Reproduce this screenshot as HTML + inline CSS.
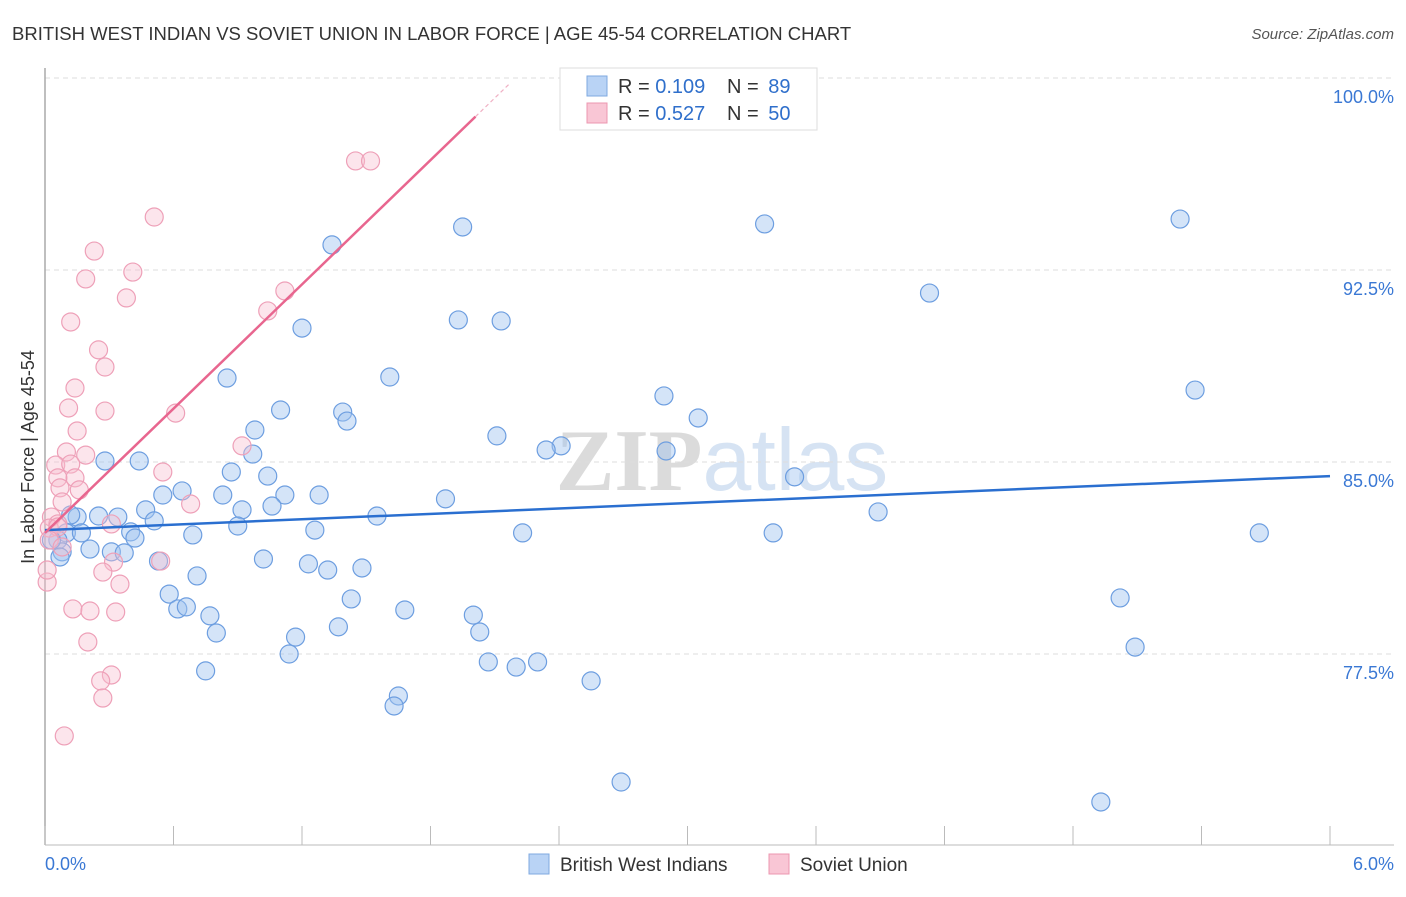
<!DOCTYPE html>
<html><head><meta charset="utf-8"><style>
body{margin:0;background:#fff;font-family:"Liberation Sans",sans-serif}
svg text{font-family:"Liberation Sans",sans-serif}
</style></head><body>
<svg id="chart" width="1406" height="892" xmlns="http://www.w3.org/2000/svg">
<text x="12" y="40" font-size="18.5" fill="#333">BRITISH WEST INDIAN VS SOVIET UNION IN LABOR FORCE | AGE 45-54 CORRELATION CHART</text>
<text x="1394" y="39" font-size="15" fill="#555" text-anchor="end" font-style="italic">Source: ZipAtlas.com</text>
<text x="722" y="490" font-size="88" fill="#ddd" text-anchor="middle" opacity="0.7"><tspan font-family="Liberation Serif" font-weight="bold" fill="#ccc">ZIP</tspan><tspan fill="#c5d8ee">atlas</tspan></text>
<g id="grid"></g>
<g id="axes"></g>
<g id="marks"></g>
<text transform="translate(34,457) rotate(-90)" font-size="18" fill="#333" text-anchor="middle">In Labor Force | Age 45-54</text>
<g>
<rect x="560" y="68" width="257" height="62" fill="#fff" stroke="#ddd"/>
<rect x="587" y="76" width="20" height="20" fill="#b9d3f5" stroke="#7fa9e0"/>
<text x="618" y="93" font-size="20" fill="#333">R = <tspan fill="#2f6fcb">0.109</tspan></text>
<text x="727" y="93" font-size="20" fill="#333">N = <tspan fill="#2f6fcb" dx="4">89</tspan></text>
<rect x="587" y="103" width="20" height="20" fill="#f9c6d5" stroke="#ec97b0"/>
<text x="618" y="120" font-size="20" fill="#333">R = <tspan fill="#2f6fcb">0.527</tspan></text>
<text x="727" y="120" font-size="20" fill="#333">N = <tspan fill="#2f6fcb" dx="4">50</tspan></text>
</g>
<g>
<rect x="529" y="854" width="20" height="20" fill="#b9d3f5" stroke="#7fa9e0"/>
<text x="560" y="871" font-size="19" fill="#333">British West Indians</text>
<rect x="769" y="854" width="20" height="20" fill="#f9c6d5" stroke="#ec97b0"/>
<text x="800" y="871" font-size="19" fill="#333">Soviet Union</text>
</g>
</svg>
<script>
const blueX=[1.34,1.95,3.36,5.30,4.13,1.20,1.93,2.13,1.61,0.85,5.37,2.89,3.05,1.10,1.39,1.41,2.11,0.98,2.41,2.34,2.90,0.44,0.28,0.87,1.04,0.97,3.50,0.64,0.55,0.83,1.12,1.28,1.87,0.47,0.92,1.06,0.25,0.34,0.15,0.12,0.51,1.55,3.89,0.90,1.26,2.23,3.40,5.67,0.10,0.17,0.40,0.42,0.69,0.06,0.21,0.31,0.37,0.08,0.07,0.53,1.02,1.23,1.32,1.48,0.71,0.58,1.43,5.02,0.62,0.66,0.77,1.68,2.00,1.37,0.80,2.03,1.17,1.14,5.09,2.07,2.20,2.30,0.75,2.55,1.65,1.63,2.69,4.93,0.03];
const blueY=[93.48,94.18,94.30,94.49,91.60,90.23,90.55,90.51,88.32,88.28,87.81,87.58,86.72,87.03,86.95,86.60,86.02,86.25,85.63,85.47,85.43,85.04,85.04,84.61,84.45,85.31,84.42,83.87,83.71,83.71,83.71,83.71,83.56,83.13,83.13,83.28,82.89,82.85,82.85,82.93,82.70,82.89,83.05,82.50,82.34,82.23,82.23,82.23,82.23,82.23,82.27,82.03,82.15,81.95,81.60,81.49,81.45,81.49,81.29,81.13,81.21,81.02,80.78,80.86,80.55,79.84,79.65,79.69,79.26,79.34,78.99,79.22,79.02,78.56,78.32,78.36,78.16,77.50,77.77,77.19,76.99,77.19,76.84,76.45,75.86,75.47,72.50,71.72,81.95];
const pinkX=[1.45,1.52,0.51,0.23,0.41,0.19,0.38,1.12,1.04,0.12,0.25,0.28,0.14,0.11,0.28,0.61,0.15,0.92,0.10,0.19,0.55,0.05,0.12,0.14,0.06,0.07,0.16,0.68,0.08,0.03,0.06,0.02,0.31,0.06,0.02,0.08,0.54,0.32,0.27,0.01,0.35,0.13,0.21,0.33,0.20,0.31,0.26,0.27,0.09,0.01];
const pinkY=[96.76,96.76,94.57,93.24,92.42,92.15,91.41,91.68,90.90,90.47,89.38,88.71,87.89,87.11,86.99,86.91,86.21,85.63,85.39,85.27,84.61,84.88,84.92,84.38,84.38,83.99,83.91,83.36,83.44,82.85,82.58,82.42,82.58,82.46,81.95,81.68,81.13,81.09,80.70,80.31,80.23,79.26,79.18,79.14,77.97,76.68,76.45,75.78,74.30,80.78];
const yTicks=[100,92.5,85,77.5];
const yTickLabels=["100.0%","92.5%","85.0%","77.5%"];
const xEndLabels=["0.0%","6.0%"];
const blueTrend=[82.34,84.45];
const pinkTrend=[82.23,8.09];

const NS="http://www.w3.org/2000/svg";
const X=v=>45+v/6*1285;
const Y=v=>78+(100-v)/7.5*192;
function mk(tag,attrs,parent){const e=document.createElementNS(NS,tag);for(const k in attrs)e.setAttribute(k,attrs[k]);parent.appendChild(e);return e;}
const grid=document.getElementById('grid'),axes=document.getElementById('axes'),marks=document.getElementById('marks');
yTicks.forEach((t,i)=>{
 const l=mk('line',{x1:45,x2:1394,y1:Y(t),y2:Y(t),stroke:'#ddd','stroke-dasharray':'5,4'},grid);
 
 
 const tx=mk('text',{x:1394,y:Y(t)+25,'font-size':18,fill:'#3a78d4','text-anchor':'end'},axes);
 tx.textContent=yTickLabels[i];
 
 
});
const ya=mk('line',{x1:45,x2:45,y1:68,y2:845,stroke:'#aaa','stroke-width':1.5},axes);


const xa=mk('line',{x1:45,x2:1394,y1:845,y2:845,stroke:'#bbb'},axes);


for(let i=0;i<=10;i++){
 const t=mk('line',{x1:X(i*0.6),x2:X(i*0.6),y1:826,y2:845,stroke:'#bbb'},axes);
 
 
}
[[0,'start',45],[6,'end',1394]].forEach((d,i)=>{
 const t=mk('text',{x:d[2],y:870,'font-size':18,fill:'#3a78d4','text-anchor':d[1]},axes);
 t.textContent=xEndLabels[i];
 
 
});
blueX.forEach((v,i)=>{
 const c=mk('circle',{cx:X(v),cy:Y(blueY[i]),r:9,fill:'rgba(160,196,240,0.45)',stroke:'#6d9ee0','stroke-width':1.2},marks);
 
 
});
pinkX.forEach((v,i)=>{
 const c=mk('circle',{cx:X(v),cy:Y(pinkY[i]),r:9,fill:'rgba(248,190,208,0.4)',stroke:'#eea0b8','stroke-width':1.2},marks);
 
 
});
const bl=mk('line',{x1:X(0),y1:Y(blueTrend[0]),x2:X(6),y2:Y(blueTrend[1]),stroke:'#2a6fd0','stroke-width':2.5},marks);


const pe=2.01;
const pl=mk('line',{x1:X(0),y1:Y(pinkTrend[0]),x2:X(pe),y2:Y(pinkTrend[0]+pinkTrend[1]*pe),stroke:'#e8668f','stroke-width':2.5},marks);


const pd=mk('line',{x1:X(pe),y1:Y(pinkTrend[0]+pinkTrend[1]*pe),x2:X(2.17),y2:Y(pinkTrend[0]+pinkTrend[1]*2.17),stroke:'#f0b0c4','stroke-width':1.2,'stroke-dasharray':'4,3'},marks);


</script>
</body></html>
